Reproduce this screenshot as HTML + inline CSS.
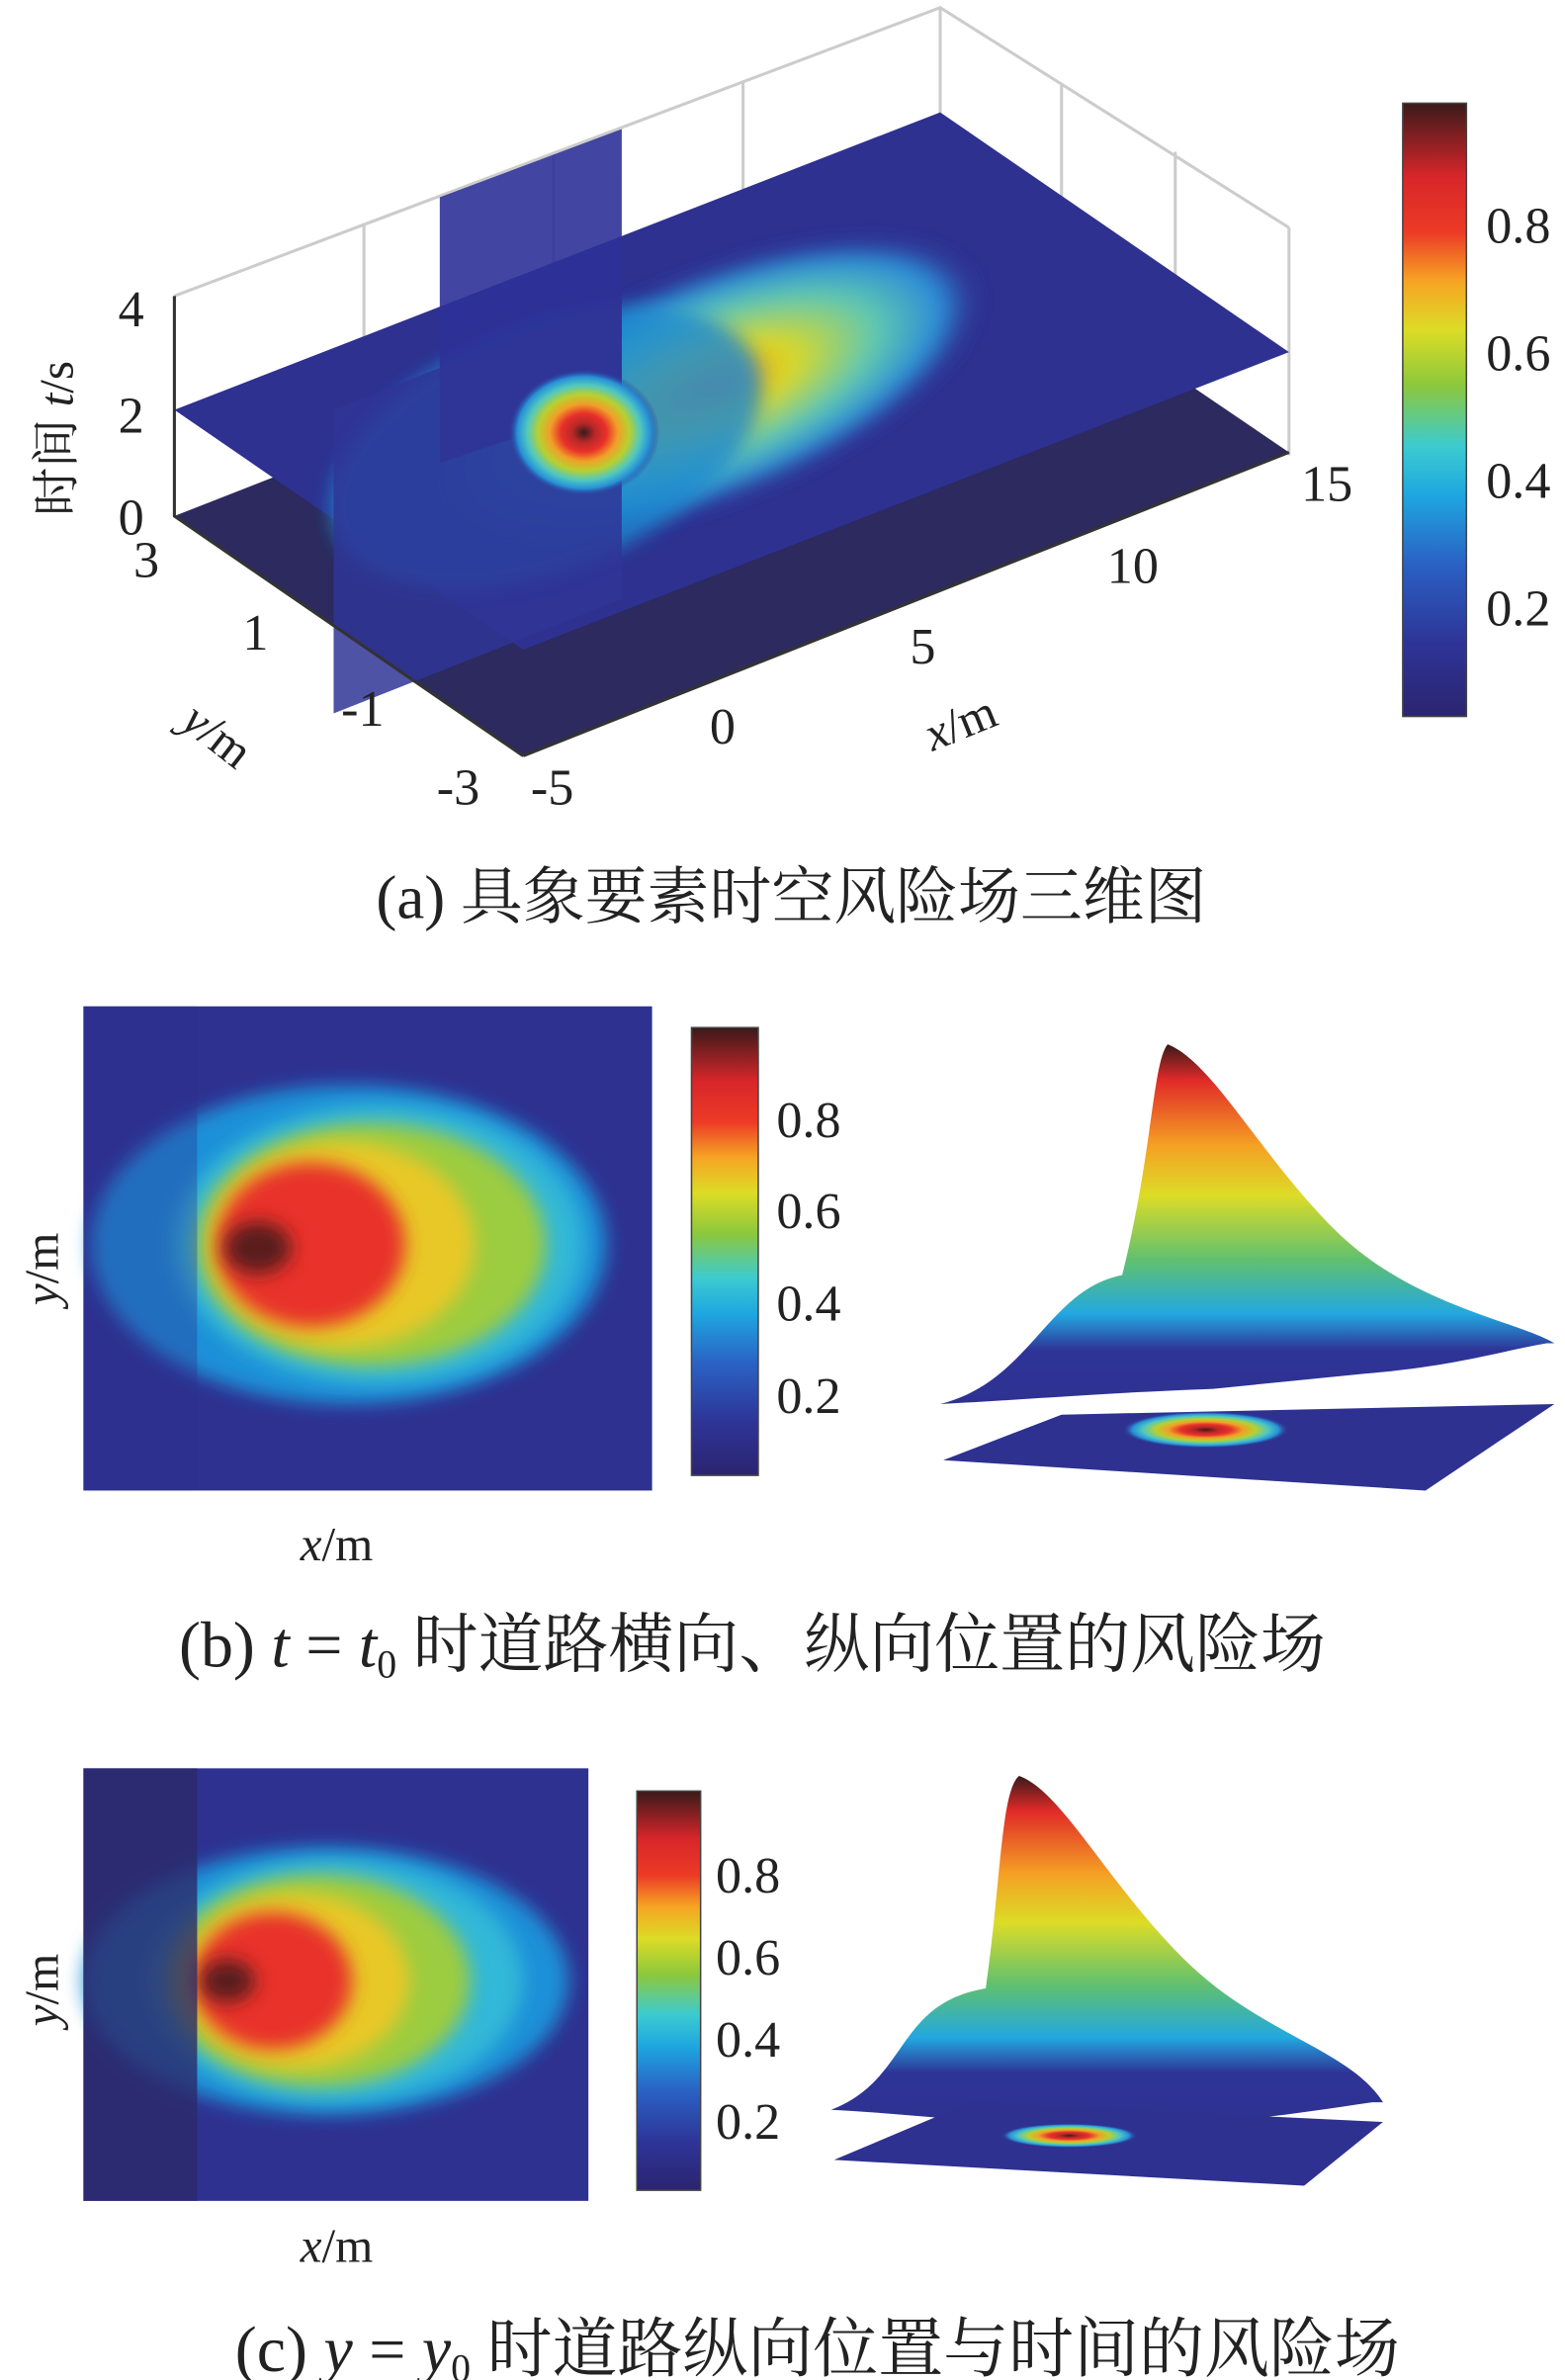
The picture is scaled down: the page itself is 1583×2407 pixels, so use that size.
<!DOCTYPE html>
<html><head><meta charset="utf-8"><style>
html,body{margin:0;padding:0;background:#fff;}
svg{display:block;}
text{font-family:"Liberation Serif","Noto Serif CJK SC","Noto Sans CJK SC",serif;fill:#222;}
</style></head><body>
<svg width="1583" height="2407" viewBox="0 0 1032 1568" preserveAspectRatio="none" xmlns="http://www.w3.org/2000/svg">
<defs>
<linearGradient id="jet" x1="0" y1="1" x2="0" y2="0">
<stop offset="0" stop-color="#2b2470"/>
<stop offset="0.12" stop-color="#2e3497"/>
<stop offset="0.25" stop-color="#2a62c4"/>
<stop offset="0.36" stop-color="#1ea6e0"/>
<stop offset="0.44" stop-color="#3ccbd0"/>
<stop offset="0.54" stop-color="#8cc83c"/>
<stop offset="0.63" stop-color="#dcdc26"/>
<stop offset="0.71" stop-color="#f6a424"/>
<stop offset="0.79" stop-color="#ec3a26"/>
<stop offset="0.88" stop-color="#d8262a"/>
<stop offset="1" stop-color="#3a1a1a"/>
</linearGradient>
<radialGradient id="blob" cx="0.5" cy="0.5" r="0.5">
<stop offset="0" stop-color="#3a1a1a"/>
<stop offset="0.15" stop-color="#b82828"/>
<stop offset="0.3" stop-color="#e8302a"/>
<stop offset="0.45" stop-color="#f0a028"/>
<stop offset="0.6" stop-color="#b8d030"/>
<stop offset="0.75" stop-color="#50c8c0"/>
<stop offset="0.88" stop-color="#2690d8"/>
<stop offset="1" stop-color="#2e3190" stop-opacity="0"/>
</radialGradient>
<radialGradient id="blob2" cx="0.5" cy="0.5" r="0.5">
<stop offset="0" stop-color="#f08a28"/>
<stop offset="0.3" stop-color="#d8d828"/>
<stop offset="0.6" stop-color="#60c8b0"/>
<stop offset="0.85" stop-color="#2a8ad8"/>
<stop offset="1" stop-color="#2e3190" stop-opacity="0"/>
</radialGradient>
<linearGradient id="surf" x1="0" y1="0" x2="0" y2="1">
<stop offset="0" stop-color="#3a1a1a"/>
<stop offset="0.1" stop-color="#e02a28"/>
<stop offset="0.28" stop-color="#f5a024"/>
<stop offset="0.42" stop-color="#dcdc26"/>
<stop offset="0.6" stop-color="#60c070"/>
<stop offset="0.75" stop-color="#22a8e0"/>
<stop offset="0.85" stop-color="#2e3497"/>
<stop offset="1" stop-color="#2e3190"/>
</linearGradient>
<filter id="bl" x="-60%" y="-60%" width="220%" height="220%"><feGaussianBlur stdDeviation="6"/></filter>
</defs>

<!-- Panel (a) -->
<g stroke="#ccc" stroke-width="2" fill="none">
<polyline points="115,195 620,5 850,150"/>
<line x1="240" y1="148" x2="240" y2="290"/>
<line x1="365" y1="100" x2="365" y2="290"/>
<line x1="490" y1="53" x2="490" y2="200"/>
<line x1="620" y1="5" x2="620" y2="140"/>
<line x1="700" y1="55" x2="700" y2="200"/>
<line x1="775" y1="100" x2="775" y2="250"/>
<line x1="850" y1="150" x2="850" y2="300"/>
</g>
<polygon points="115,340 345,498 850,298 620,142" fill="#2c2a5e"/>
<polygon points="115,270 345,428 850,232 620,74" fill="#2e3190"/>
<ellipse cx="470" cy="255" rx="190" ry="75" transform="rotate(-22 470 255)" fill="url(#blob2)" filter="url(#bl)"/>
<ellipse cx="360" cy="295" rx="150" ry="80" transform="rotate(-22 360 295)" fill="#1e88d0" opacity="0.8" filter="url(#bl)"/>
<polygon points="290,130 410,85 410,265 290,305" fill="#2e3197" opacity="0.9"/>
<polygon points="220,270 410,195 410,395 220,470" fill="#2f3596" opacity="0.85"/>
<ellipse cx="385" cy="285" rx="50" ry="42" fill="url(#blob)"/>
<polyline points="115,195 115,340 345,498" fill="none" stroke="#333" stroke-width="2"/>
<line x1="345" y1="498" x2="850" y2="298" stroke="#333" stroke-width="2"/>
<g font-size="34">
<text x="78" y="215">4</text><text x="78" y="285">2</text><text x="78" y="352">0</text>
<text x="88" y="380">3</text><text x="160" y="428">1</text><text x="225" y="478">-1</text><text x="288" y="530">-3</text>
<text x="350" y="530">-5</text><text x="468" y="490">0</text><text x="600" y="437">5</text><text x="730" y="384">10</text><text x="858" y="330">15</text>
</g>
<text font-size="32" transform="translate(48,340) rotate(-90)">时间 <tspan font-style="italic">t</tspan>/s</text>
<text font-size="32" transform="translate(118,478) rotate(38)"><tspan font-style="italic">y</tspan>/m</text>
<text font-size="32" transform="translate(615,495) rotate(-22)"><tspan font-style="italic">x</tspan>/m</text>
<rect x="925" y="68" width="42" height="404" fill="url(#jet)" stroke="#444" stroke-width="1"/>
<g font-size="34"><text x="980" y="160">0.8</text><text x="980" y="244">0.6</text><text x="980" y="328">0.4</text><text x="980" y="412">0.2</text></g>
<text x="248" y="605" font-size="41">(a) 具象要素时空风险场三维图</text>

<!-- Panel (b) -->
<rect x="55" y="663" width="375" height="319" fill="#2e3190"/>
<ellipse cx="230" cy="820" rx="170" ry="105" fill="#1e90d8" filter="url(#bl)"/>
<ellipse cx="250" cy="820" rx="135" ry="92" fill="#30b8d8" filter="url(#bl)"/>
<ellipse cx="245" cy="820" rx="115" ry="80" fill="#9ccc40" filter="url(#bl)"/>
<ellipse cx="225" cy="820" rx="88" ry="68" fill="#e8c828" filter="url(#bl)"/>
<ellipse cx="205" cy="820" rx="62" ry="54" fill="#e8302a" filter="url(#bl)"/>
<ellipse cx="170" cy="822" rx="22" ry="17" fill="#5a1a1a" filter="url(#bl)"/>
<rect x="55" y="663" width="75" height="319" fill="#2e3190" opacity="0.35"/>
<rect x="456" y="677" width="44" height="295" fill="url(#jet)" stroke="#444"/>
<g font-size="34"><text x="512" y="749">0.8</text><text x="512" y="809">0.6</text><text x="512" y="870">0.4</text><text x="512" y="931">0.2</text></g>
<text font-size="32" transform="translate(38,860) rotate(-90)"><tspan font-style="italic">y</tspan>/m</text>
<text x="198" y="1028" font-size="32"><tspan font-style="italic">x</tspan>/m</text>
<path d="M620,925 C680,910 690,850 740,840 C760,760 760,700 770,688 C800,700 830,760 880,810 C930,860 1000,870 1025,885 L1020,885 C990,890 960,900 900,905 L800,915 C720,918 680,922 620,925 Z" fill="url(#surf)"/>
<polygon points="622,962 700,932 1025,925 940,982" fill="#2e3190"/>
<ellipse cx="795" cy="942" rx="55" ry="12" fill="url(#blob)"/>
<text x="118" y="1098" font-size="43">(b) <tspan font-style="italic">t</tspan> = <tspan font-style="italic">t</tspan><tspan font-size="26" dy="7">0</tspan><tspan dy="-7"> 时道路横向、纵向位置的风险场</tspan></text>

<!-- Panel (c) -->
<rect x="55" y="1165" width="333" height="285" fill="#2e3190"/>
<ellipse cx="215" cy="1305" rx="160" ry="88" fill="#1e90d8" filter="url(#bl)"/>
<ellipse cx="220" cy="1305" rx="125" ry="80" fill="#30b8d8" filter="url(#bl)"/>
<ellipse cx="210" cy="1305" rx="100" ry="70" fill="#9ccc40" filter="url(#bl)"/>
<ellipse cx="195" cy="1305" rx="75" ry="58" fill="#e8c828" filter="url(#bl)"/>
<ellipse cx="180" cy="1305" rx="52" ry="45" fill="#e8302a" filter="url(#bl)"/>
<ellipse cx="150" cy="1305" rx="18" ry="14" fill="#5a1a1a" filter="url(#bl)"/>
<rect x="55" y="1165" width="75" height="285" fill="#2c2a6a" opacity="0.8"/>
<rect x="420" y="1180" width="42" height="263" fill="url(#jet)" stroke="#444"/>
<g font-size="34"><text x="472" y="1247">0.8</text><text x="472" y="1301">0.6</text><text x="472" y="1355">0.4</text><text x="472" y="1409">0.2</text></g>
<text font-size="32" transform="translate(38,1335) rotate(-90)"><tspan font-style="italic">y</tspan>/m</text>
<text x="198" y="1490" font-size="32"><tspan font-style="italic">x</tspan>/m</text>
<path d="M548,1390 C600,1370 590,1320 650,1310 C660,1240 660,1180 672,1170 C700,1180 730,1240 780,1290 C830,1340 890,1350 912,1385 L905,1385 C870,1390 840,1395 800,1398 L700,1400 C640,1398 590,1392 548,1390 Z" fill="url(#surf)"/>
<polygon points="550,1423 640,1385 912,1398 860,1440" fill="#2e3190"/>
<ellipse cx="705" cy="1407" rx="45" ry="8" fill="url(#blob)"/>
<text x="155" y="1562" font-size="43">(c) <tspan font-style="italic">y</tspan> = <tspan font-style="italic">y</tspan><tspan font-size="26" dy="7">0</tspan><tspan dy="-7"> 时道路纵向位置与时间的风险场</tspan></text>
</svg>
</body></html>
